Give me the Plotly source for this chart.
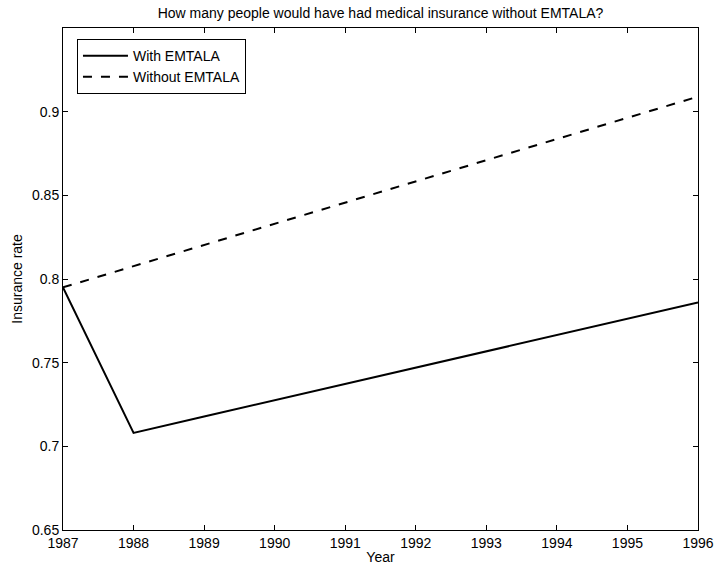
import plotly.graph_objects as go

years = [1987, 1988, 1989, 1990, 1991, 1992, 1993, 1994, 1995, 1996]
with_emtala = [0.7950, 0.7080, 0.7178, 0.7275, 0.7373, 0.7470, 0.7568, 0.7665, 0.7763, 0.7860]
without_emtala = [0.7950, 0.8077, 0.8203, 0.8330, 0.8457, 0.8583, 0.8710, 0.8837, 0.8963, 0.9090]
y_ticks = [0.65, 0.7, 0.75, 0.8, 0.85, 0.9]
y_tick_text = ["0.65", "0.7", "0.75", "0.8", "0.85", "0.9"]

font = "Liberation Sans, Arial, sans-serif"
fs = 14

fig = go.Figure()
fig.add_trace(go.Scatter(x=years, y=with_emtala, mode="lines", name="With EMTALA",
                         line=dict(color="black", width=2)))
fig.add_trace(go.Scatter(x=years, y=without_emtala, mode="lines", name="Without EMTALA",
                         line=dict(color="black", width=2, dash="dash")))

axis_common = dict(showgrid=False, zeroline=False, showline=True, linecolor="black",
                   linewidth=1, mirror="allticks", ticks="inside", ticklen=5,
                   tickcolor="black", automargin=False,
                   tickfont=dict(family=font, size=fs, color="black"))

fig.update_layout(
    width=715, height=565,
    margin=dict(l=63, r=17, t=28, b=35),
    paper_bgcolor="white", plot_bgcolor="white",
    title=dict(text="How many people would have had medical insurance without EMTALA?",
               xref="paper", x=0.5, xanchor="center", y=0.977, yanchor="middle",
               font=dict(family=font, size=fs, color="black")),
    xaxis=dict(range=[1987, 1996], tickvals=years, ticktext=[str(y) for y in years],
               title=dict(text="Year", standoff=6, font=dict(family=font, size=fs, color="black")),
               **axis_common),
    yaxis=dict(range=[0.65, 0.95], tickvals=y_ticks, ticktext=y_tick_text,
               title=dict(text="Insurance rate", standoff=6, font=dict(family=font, size=fs, color="black")),
               **axis_common),
    legend=dict(x=0.022, y=0.978, xanchor="left", yanchor="top",
                bgcolor="white", bordercolor="black", borderwidth=1,
                font=dict(family=font, size=fs, color="black"),
                tracegroupgap=0, itemwidth=45),
    showlegend=True,
)

fig.write_html("out.html", config={"displayModeBar": False},
               post_script="document.body.style.margin='0';document.body.style.overflow='hidden';")
